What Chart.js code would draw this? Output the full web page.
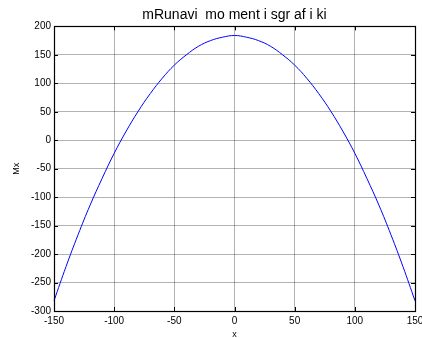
<!DOCTYPE html>
<html>
<head>
<meta charset="utf-8">
<script src="https://cdn.jsdelivr.net/npm/chart.js@4"></script>
<style>
  html, body { margin: 0; padding: 0; background: #fff; }
  #wrap { width: 422px; height: 338px; }
</style>
</head>
<body>
<div id="wrap"><canvas id="momentChart" width="422" height="338"></canvas></div>
<script>
// moment diagram
const TITLE = "mRunavi  mo ment i sgr af i ki";
const X_LABEL = "x";
const Y_LABEL = "Mx";

const xs = [-150, -140, -130, -120, -110, -100, -90, -80, -70, -60, -50, -40, -30, -20, -10,
  0, 10, 20, 30, 40, 50, 60, 70, 80, 90, 100, 110, 120, 130, 140, 150];
const mx = [-282, -222, -166, -114, -67, -23, 16, 51, 82, 109, 132, 150, 165, 175, 181,
  184, 181, 175, 165, 150, 132, 109, 82, 51, 16, -23, -67, -114, -166, -222, -282];

const X_RANGE = [-150, 150];
const Y_RANGE = [-300, 200];
const X_STEP = 50;
const Y_STEP = 50;

const FONT = "'Liberation Sans', Arial, sans-serif";

// black box with inward tick marks, matlab style
const boxPlugin = {
  id: "box",
  afterDraw(chart) {
    const { ctx, chartArea: a, scales } = chart;
    const len = 4;
    ctx.save();
    ctx.strokeStyle = "#000";
    ctx.lineWidth = 1;
    ctx.beginPath();
    scales.x.ticks.forEach(t => {
      const px = Math.round(scales.x.getPixelForValue(t.value)) + 0.5;
      ctx.moveTo(px, a.bottom); ctx.lineTo(px, a.bottom - len);
      ctx.moveTo(px, a.top); ctx.lineTo(px, a.top + len);
    });
    scales.y.ticks.forEach(t => {
      const py = Math.round(scales.y.getPixelForValue(t.value)) + 0.5;
      ctx.moveTo(a.left, py); ctx.lineTo(a.left + len, py);
      ctx.moveTo(a.right, py); ctx.lineTo(a.right - len, py);
    });
    ctx.stroke();
    ctx.lineWidth = 1.2;
    ctx.strokeRect(Math.round(a.left) + 0.5, Math.round(a.top) + 0.5,
      Math.round(a.right - a.left), Math.round(a.bottom - a.top));
    ctx.restore();
  }
};

new Chart(document.getElementById("momentChart"), {
  type: "scatter",
  data: {
    datasets: [{
      data: xs.map((x, i) => ({ x, y: mx[i] })),
      showLine: true,
      borderColor: "#0000ff",
      borderWidth: 1,
      pointRadius: 0,
      tension: 0.4,
      clip: false
    }]
  },
  options: {
    responsive: false,
    animation: false,
    layout: { padding: { left: 0, right: 7, top: 0, bottom: 0 } },
    plugins: {
      legend: { display: false },
      tooltip: { enabled: false },
      title: {
        display: true,
        fullSize: false,
        text: TITLE,
        color: "#000",
        font: { family: FONT, size: 14, weight: "normal", lineHeight: 1.1 },
        padding: { top: 7, bottom: 4 }
      }
    },
    scales: {
      x: {
        type: "linear",
        min: X_RANGE[0],
        max: X_RANGE[1],
        afterFit(s) { s.height = 27; s.paddingLeft = 0; s.paddingRight = 0; },
        ticks: {
          stepSize: X_STEP,
          color: "#000",
          padding: 4,
          maxRotation: 0,
          autoSkip: false,
          font: { family: FONT, size: 10 }
        },
        grid: { color: "rgba(0,0,0,0.3)", drawTicks: false, lineWidth: 1 },
        border: { display: false },
        title: {
          display: true,
          text: X_LABEL,
          color: "#000",
          font: { family: FONT, size: 9, lineHeight: 1 },
          padding: { top: 0, bottom: -1 }
        }
      },
      y: {
        type: "linear",
        min: Y_RANGE[0],
        max: Y_RANGE[1],
        afterFit(s) { s.width = 54; s.paddingTop = 0; s.paddingBottom = 0; },
        ticks: {
          stepSize: Y_STEP,
          color: "#000",
          padding: 3,
          autoSkip: false,
          font: { family: FONT, size: 10 }
        },
        grid: { color: "rgba(0,0,0,0.3)", drawTicks: false, lineWidth: 1 },
        border: { display: false },
        title: {
          display: true,
          text: Y_LABEL,
          color: "#000",
          font: { family: FONT, size: 9, lineHeight: 1 },
          padding: { top: 12, bottom: 0 }
        }
      }
    }
  },
  plugins: [boxPlugin]
});
</script>
</body>
</html>
